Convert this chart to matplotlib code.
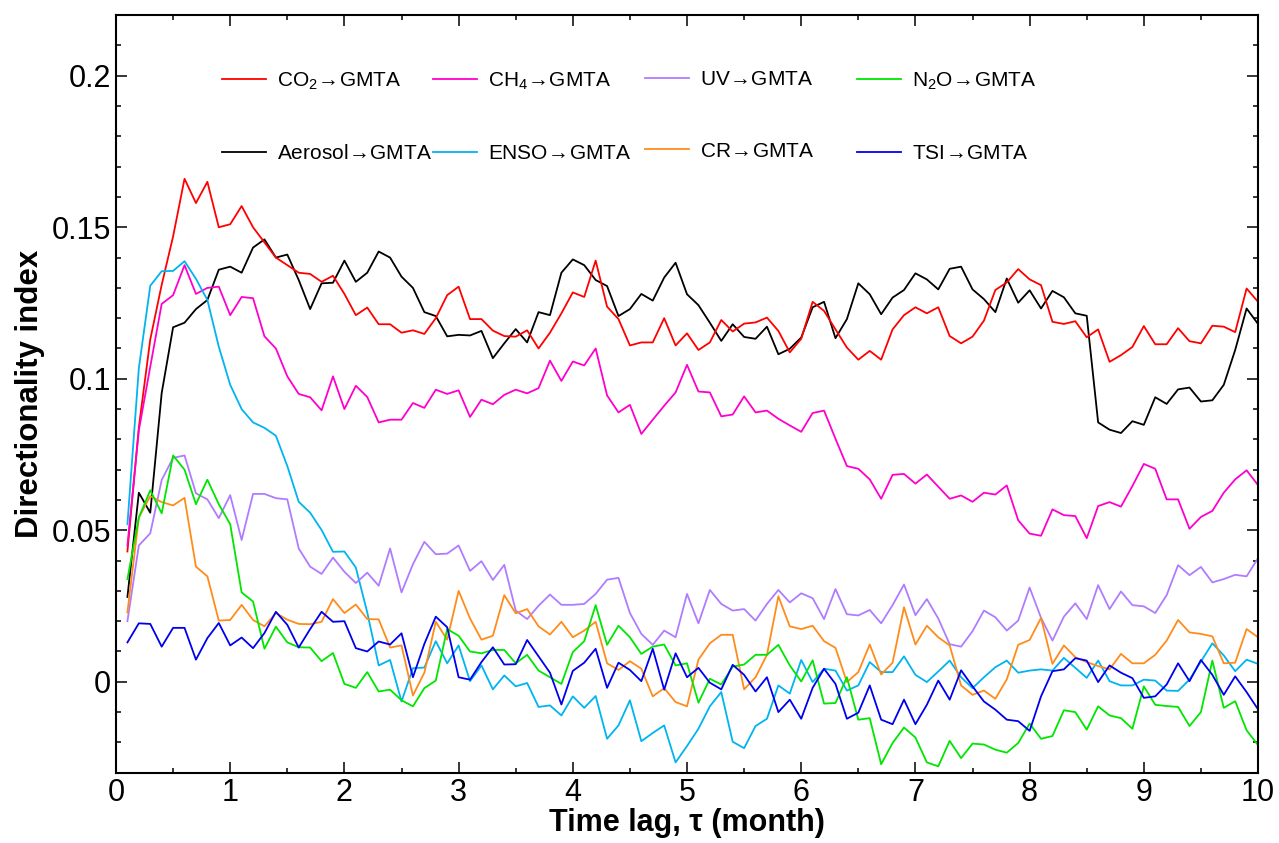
import numpy as np
import matplotlib
matplotlib.use('Agg')
import matplotlib.pyplot as plt
from matplotlib.ticker import MultipleLocator

plt.rcParams['font.family'] = ['Liberation Sans', 'DejaVu Sans']
plt.rcParams['mathtext.default'] = 'regular'
plt.rcParams['mathtext.fontset'] = 'stixsans'

# time lag in months, 0.1 .. 10
lag = np.arange(1, 101) / 10.0

co2 = [0.043, 0.084, 0.113, 0.131, 0.147, 0.166, 0.158, 0.165, 0.150, 0.151, 0.157, 0.150, 0.145, 0.140, 0.1375,
       0.135, 0.1346, 0.132, 0.134, 0.128, 0.121, 0.1235, 0.118, 0.118, 0.1152,
       0.116, 0.1148, 0.120, 0.1276, 0.1304, 0.1197, 0.1197, 0.1159, 0.1141, 0.1139, 0.116, 0.110, 0.1152, 0.1216,
       0.1285, 0.127, 0.139, 0.1238, 0.1197, 0.111, 0.112, 0.112, 0.120, 0.111,
       0.115, 0.1095, 0.112, 0.1194, 0.1156, 0.1182, 0.1186, 0.1202, 0.1158, 0.1087, 0.1132, 0.1254, 0.1224, 0.1163,
       0.1103, 0.1063, 0.1092, 0.1063, 0.1163, 0.121, 0.1236, 0.1216, 0.1236, 0.1141, 0.1117,
       0.1139, 0.1192, 0.1293, 0.1318, 0.1362, 0.1328, 0.1309, 0.1188, 0.1181, 0.119, 0.1137, 0.1163, 0.1056, 0.1078,
       0.1105, 0.1174, 0.1114, 0.1114, 0.1167, 0.1124, 0.1117, 0.1175, 0.1172, 0.1154, 0.1298, 0.1254]

aerosol = [0.028, 0.0624, 0.0558, 0.0953, 0.117, 0.1185, 0.123, 0.126, 0.136, 0.137, 0.135, 0.1433, 0.146, 0.140,
           0.141, 0.1326, 0.123, 0.1315, 0.1317, 0.139, 0.132, 0.135, 0.142, 0.140, 0.1337,
           0.130, 0.122, 0.1207, 0.114, 0.1145, 0.1143, 0.1158, 0.1068, 0.1117, 0.1164, 0.112, 0.122, 0.121, 0.135,
           0.1394, 0.1375, 0.1326, 0.1306, 0.1207, 0.123, 0.128, 0.1258, 0.1334, 0.1383,
           0.1279, 0.1243, 0.1185, 0.1125, 0.118, 0.1138, 0.1132, 0.1172, 0.1081, 0.1099, 0.1136, 0.1236, 0.1254,
           0.1134, 0.1197, 0.1315, 0.1279, 0.1213, 0.1268, 0.1293, 0.1348, 0.1328, 0.1295, 0.1363, 0.137,
           0.1295, 0.1263, 0.122, 0.1331, 0.1251, 0.1292, 0.1232, 0.129, 0.1269, 0.1216, 0.1208, 0.0856, 0.0832,
           0.0821, 0.086, 0.0848, 0.0939, 0.0917, 0.0965, 0.0971, 0.0925, 0.0929, 0.098, 0.1095, 0.1232, 0.1181]

ch4 = [0.045, 0.083, 0.104, 0.1247, 0.1276, 0.1375, 0.128, 0.130, 0.1304, 0.121, 0.127, 0.1266, 0.114, 0.110,
       0.1008, 0.095, 0.0939, 0.0896, 0.1008, 0.090, 0.0977, 0.094, 0.0856, 0.0865, 0.0865,
       0.092, 0.0904, 0.0964, 0.095, 0.0962, 0.0874, 0.0931, 0.0916, 0.0947, 0.0964, 0.0952, 0.0969, 0.106, 0.0993,
       0.1057, 0.1044, 0.110, 0.0945, 0.0889, 0.0914, 0.0818, 0.0865, 0.0911, 0.0955,
       0.1046, 0.0958, 0.0955, 0.0876, 0.0882, 0.0942, 0.0889, 0.0895, 0.0868, 0.0846, 0.0825, 0.0887, 0.0895,
       0.0802, 0.0712, 0.0703, 0.0668, 0.0604, 0.0683, 0.0686, 0.0654, 0.0684, 0.0644, 0.0604, 0.0615,
       0.0594, 0.0624, 0.0618, 0.0648, 0.0533, 0.0489, 0.0482, 0.0569, 0.055, 0.0547, 0.0474, 0.058, 0.0593,
       0.0578, 0.0646, 0.0719, 0.0703, 0.0602, 0.0602, 0.0505, 0.0544, 0.0564, 0.0624, 0.0668, 0.0698, 0.0649]

enso = [0.052, 0.1035, 0.1307, 0.1355, 0.1356, 0.1388, 0.133, 0.126, 0.1106, 0.098, 0.090, 0.0856, 0.0838, 0.0812,
        0.0712, 0.0594, 0.0558, 0.0501, 0.0429, 0.043, 0.0377, 0.0229, 0.0054, 0.0072, -0.0065,
        0.0045, 0.0047, 0.0134, 0.0061, 0.012, 0.0002, 0.0054, -0.0025, 0.0021, -0.0015, -0.0004, -0.0083, -0.0078,
        -0.0111, -0.0048, -0.0086, -0.0047, -0.0188, -0.0144, -0.0061, -0.0196, -0.0169, -0.0144, -0.0266,
        -0.0212, -0.0155, -0.0081, -0.0034, -0.0198, -0.0219, -0.0146, -0.0122, -0.0012, -0.0039, 0.0072, -0.0001,
        0.0043, 0.0037, -0.0029, -0.0012, 0.0065, 0.0032, 0.0032, 0.0084, 0.0023, -0.0001, 0.0034, 0.007, 0.0015,
        -0.0021, 0.0015, 0.0048, 0.007, 0.003, 0.0037, 0.0041, 0.0037, 0.0079, 0.0046, 0.0013, 0.007, 0.0002,
        -0.0012, -0.0012, 0.0007, 0.0004, -0.0029, -0.003, 0.0007, 0.0067, 0.0127, 0.0087, 0.0035, 0.0073, 0.0059]

uv = [0.020, 0.045, 0.049, 0.0666, 0.0739, 0.0747, 0.0622, 0.0602, 0.054, 0.0616, 0.0468, 0.062, 0.062, 0.0606,
      0.0602, 0.044, 0.038, 0.0356, 0.041, 0.0363, 0.0326, 0.036, 0.0317, 0.044, 0.0295,
      0.0388, 0.0462, 0.0421, 0.0423, 0.045, 0.0366, 0.0398, 0.0336, 0.0386, 0.0235, 0.0207, 0.0251, 0.0288, 0.0254,
      0.0254, 0.0257, 0.029, 0.0337, 0.0343, 0.0227, 0.0158, 0.0122, 0.0169, 0.0147,
      0.029, 0.0193, 0.0303, 0.0257, 0.0235, 0.024, 0.0202, 0.0257, 0.0303, 0.0262, 0.0292, 0.0276, 0.0207, 0.0306,
      0.0223, 0.0219, 0.0237, 0.0193, 0.0253, 0.0321, 0.022, 0.0273, 0.0209, 0.0124, 0.0116,
      0.0167, 0.0235, 0.0213, 0.0169, 0.0202, 0.0311, 0.0211, 0.0136, 0.0215, 0.0259, 0.0207, 0.0319, 0.024,
      0.0298, 0.0253, 0.0249, 0.0227, 0.0286, 0.0385, 0.0352, 0.0379, 0.0328, 0.0339, 0.0353, 0.0348, 0.0408]

n2o = [0.0339, 0.0542, 0.0632, 0.0556, 0.0747, 0.070, 0.0586, 0.0667, 0.0586, 0.052, 0.0295, 0.0265, 0.0109,
       0.0182, 0.013, 0.0114, 0.0113, 0.0068, 0.0095, -0.0007, -0.002, 0.0032, -0.0032, -0.0026, -0.0061,
       -0.0081, -0.0021, 0.0004, 0.0174, 0.0152, 0.010, 0.0094, 0.0105, 0.0105, 0.0061, 0.0089, 0.0037, 0.0015,
       -0.0007, 0.0098, 0.0134, 0.0253, 0.0122, 0.0185, 0.0147, 0.0092, 0.0116, 0.0123, 0.0054,
       0.0061, -0.0069, 0.001, -0.0009, 0.005, 0.0057, 0.0089, 0.0089, 0.0122, 0.0054, 0.0001, 0.0071, -0.0072,
       -0.007, 0.0015, -0.0125, -0.012, -0.0272, -0.0202, -0.0151, -0.0184, -0.0266, -0.0279, -0.0195, -0.0252,
       -0.0204, -0.0207, -0.0224, -0.0234, -0.0202, -0.0138, -0.0188, -0.0179, -0.0094, -0.01, -0.0158, -0.0081,
       -0.0111, -0.012, -0.0155, -0.0015, -0.0076, -0.008, -0.0083, -0.0146, -0.01, 0.007, -0.0086, -0.0064,
       -0.016, -0.0209]

cr = [0.0229, 0.0542, 0.0613, 0.0593, 0.0582, 0.0607, 0.038, 0.0348, 0.0202, 0.0204, 0.0254, 0.0204, 0.0183,
      0.0227, 0.0205, 0.0191, 0.019, 0.0198, 0.0273, 0.0227, 0.0255, 0.0207, 0.0206, 0.0113, 0.012,
      -0.0045, 0.003, 0.0198, 0.0139, 0.030, 0.0209, 0.0139, 0.0152, 0.0286, 0.0226, 0.024, 0.0183, 0.0156, 0.0198,
      0.0147, 0.0169, 0.0198, 0.0061, 0.0039, 0.0068, 0.0043, -0.0048, -0.0021, -0.0067,
      -0.0081, 0.0073, 0.0127, 0.0155, 0.0155, -0.0025, 0.0015, 0.0089, 0.0282, 0.0183, 0.0174, 0.0185, 0.0134,
      0.0112, -0.0001, 0.0032, 0.0123, 0.0024, 0.0063, 0.0246, 0.0123, 0.0185, 0.0147, 0.012, -0.0012,
      -0.0043, -0.0029, -0.0056, 0.0008, 0.0122, 0.0138, 0.0211, 0.0059, 0.012, 0.0081, 0.0065, 0.0052, 0.0041,
      0.0092, 0.0061, 0.0061, 0.0089, 0.0136, 0.0204, 0.0163, 0.0158, 0.015, 0.0061, 0.0063, 0.0174, 0.0147]

tsi = [0.013, 0.0193, 0.0191, 0.0116, 0.0178, 0.0178, 0.0073, 0.0144, 0.0194, 0.012, 0.0146, 0.0111, 0.0161,
       0.0231, 0.0188, 0.0113, 0.0174, 0.0231, 0.0198, 0.020, 0.0111, 0.010, 0.0133, 0.0123, 0.016,
       0.0015, 0.0125, 0.0215, 0.018, 0.0015, 0.0007, 0.0065, 0.0114, 0.0057, 0.0058, 0.0138, 0.0084, 0.003,
       -0.0075, 0.0036, 0.0063, 0.0109, -0.002, 0.0063, 0.0039, 0.0002, 0.0109, -0.0026, 0.0094,
       0.0015, 0.0046, -0.0003, -0.0025, 0.0056, 0.0023, -0.0032, 0.0015, -0.01, -0.0059, -0.0122, -0.002, 0.0043,
       -0.0007, -0.0122, -0.0102, -0.0012, -0.0125, -0.014, -0.0059, -0.014, -0.0076, 0.0004, -0.0059, 0.0038,
       -0.0015, -0.0065, -0.0092, -0.0125, -0.013, -0.0162, -0.0048, 0.0035, 0.0041, 0.0078, 0.007, -0.0001,
       0.0054, 0.003, 0.0012, -0.0053, -0.0048, -0.0009, 0.0061, 0.0002, 0.0072, 0.0023, -0.0043, 0.0018,
       -0.0034, -0.0091]

arrow = '$\\!\\rightarrow\\!$'
labels = ['CO$_2$' + arrow + 'GMTA', 'CH$_4$' + arrow + 'GMTA', 'UV' + arrow + 'GMTA', 'N$_2$O' + arrow + 'GMTA',
          'Aerosol' + arrow + 'GMTA', 'ENSO' + arrow + 'GMTA', 'CR' + arrow + 'GMTA', 'TSI' + arrow + 'GMTA']
series = [co2, ch4, uv, n2o, aerosol, enso, cr, tsi]
colors = ['#ff0000', '#ff00cc', '#b07cff', '#00e600', '#000000', '#00b4f0', '#ff8c1a', '#0000ee']

fig = plt.figure(figsize=(12.79, 8.43), dpi=100)
ax = fig.add_axes([0.0907, 0.0834, 0.8929, 0.8986])

# draw in an order that keeps the lower series on top
order = [4, 0, 1, 5, 2, 6, 3, 7]
handles = {}
for i in order:
    h, = ax.plot(lag, series[i], color=colors[i], lw=1.3, label=labels[i])
    handles[i] = h

ax.set_xlim(0, 10)
ax.set_ylim(-0.03, 0.22)
ax.set_xticks(range(0, 11))
ax.set_yticks([0, 0.05, 0.1, 0.15, 0.2])
ax.set_yticklabels(['0', '0.05', '0.1', '0.15', '0.2'])
ax.xaxis.set_minor_locator(MultipleLocator(0.5))
ax.yaxis.set_minor_locator(MultipleLocator(0.01))
ax.tick_params(which='both', direction='in', top=True, right=True, width=1.1, labelsize=22)
ax.tick_params(which='major', length=8)
ax.tick_params(which='minor', length=3.6)
for s in ax.spines.values():
    s.set_linewidth(1.5)

ax.set_xlabel('Time lag, \u03c4 (month)', fontsize=22, fontweight='bold', labelpad=0)
ax.set_ylabel('Directionality index', fontsize=22.5, fontweight='bold', labelpad=5)

# legend: four columns of two entries each
col_x = [0.0928, 0.2776, 0.4633, 0.6489]
for c in range(4):
    hs = [handles[c], handles[c + 4]]
    leg = ax.legend(hs, [labels[c], labels[c + 4]], loc='upper left',
                    bbox_to_anchor=(col_x[c], 0.927), frameon=False, fontsize=15,
                    handlelength=2.1, handletextpad=0.55, labelspacing=2.5,
                    borderpad=0, borderaxespad=0)
    if c < 3:
        ax.add_artist(leg)

fig.savefig('out.png', dpi=100)
